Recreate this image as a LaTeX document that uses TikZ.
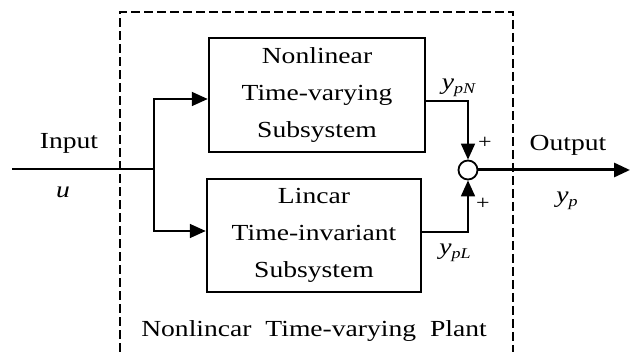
\documentclass[tikz,border=0pt]{standalone}
\usepackage{fontspec}
\setmainfont{Liberation Serif}[FakeStretch=1.2]
\usetikzlibrary{arrows.meta}
\tikzset{
  blk/.style={draw, line width=2.5pt, minimum width=#1, minimum height=113pt, inner sep=0pt, align=center, font=\fontsize{23}{37}\selectfont},
  lbl/.style={inner sep=0pt, font=\fontsize{23}{28}\selectfont},
  sig/.style={line width=1.8pt},
  tip/.style={-{Triangle[length=16pt,width=14pt]}},
  sumc/.style={draw, circle, line width=1.8pt, minimum size=19pt, inner sep=0pt},
  plant/.style={line width=2.5pt, dash pattern=on 9pt off 4pt}
}
\newcommand{\ysub}[1]{\textit{y}\raisebox{-0.35ex}{\fontsize{15}{15}\selectfont\textit{#1}}}
\begin{document}
\begin{tikzpicture}[x=1pt,y=-1pt]
\useasboundingbox (0,0) rectangle (630,352);
% plant boundary
\draw[plant] (120,352) -- (120,12) -- (513,12) -- (513,352);
% blocks
\node[blk=216pt, minimum height=114pt] (nl) at (317,95) {Nonlinear\\Time-varying\\Subsystem};
\node[blk=214pt] (li) at (314,235.5) {Lincar\\Time-invariant\\Subsystem};
\node[sumc] (sum) at (468,170) {};
% input
\coordinate (in) at (12,169);
\coordinate (j) at (154,169);
\coordinate (out) at (630,170);
\draw[line width=1.2pt] (in) -- (j);
\draw[sig, tip] (j) |- (nl.west |- 0,99);
\draw[sig, tip] (j) |- (li.west |- 0,231);
\draw[sig, tip] (nl.east |- 0,101) -| (sum.north);
\draw[sig, tip] (li.east |- 0,232) -| (sum.south);
\draw[line width=3pt, tip] (sum.east) -- (out);
% labels
\node[lbl] (tin) at (69,143) {Input};
\node[lbl] (tu) at (63,192) {\textit{u}};
\node[lbl] (tout) at (568,145) {Output};
\node[lbl] (typ) at (567,201) {\ysub{p}};
\node[lbl] (typn) at (459,88) {\ysub{pN}};
\node[lbl] (typl) at (455,253) {\ysub{pL}};
\node[lbl, font=\fontsize{20}{20}\selectfont] (p1) at (485,143) {+};
\node[lbl, font=\fontsize{20}{20}\selectfont] (p2) at (483,204) {+};
\node[lbl] (tpl) at (314,331) {Nonlincar\ \ Time-varying\ \ Plant};
\end{tikzpicture}
\end{document}
